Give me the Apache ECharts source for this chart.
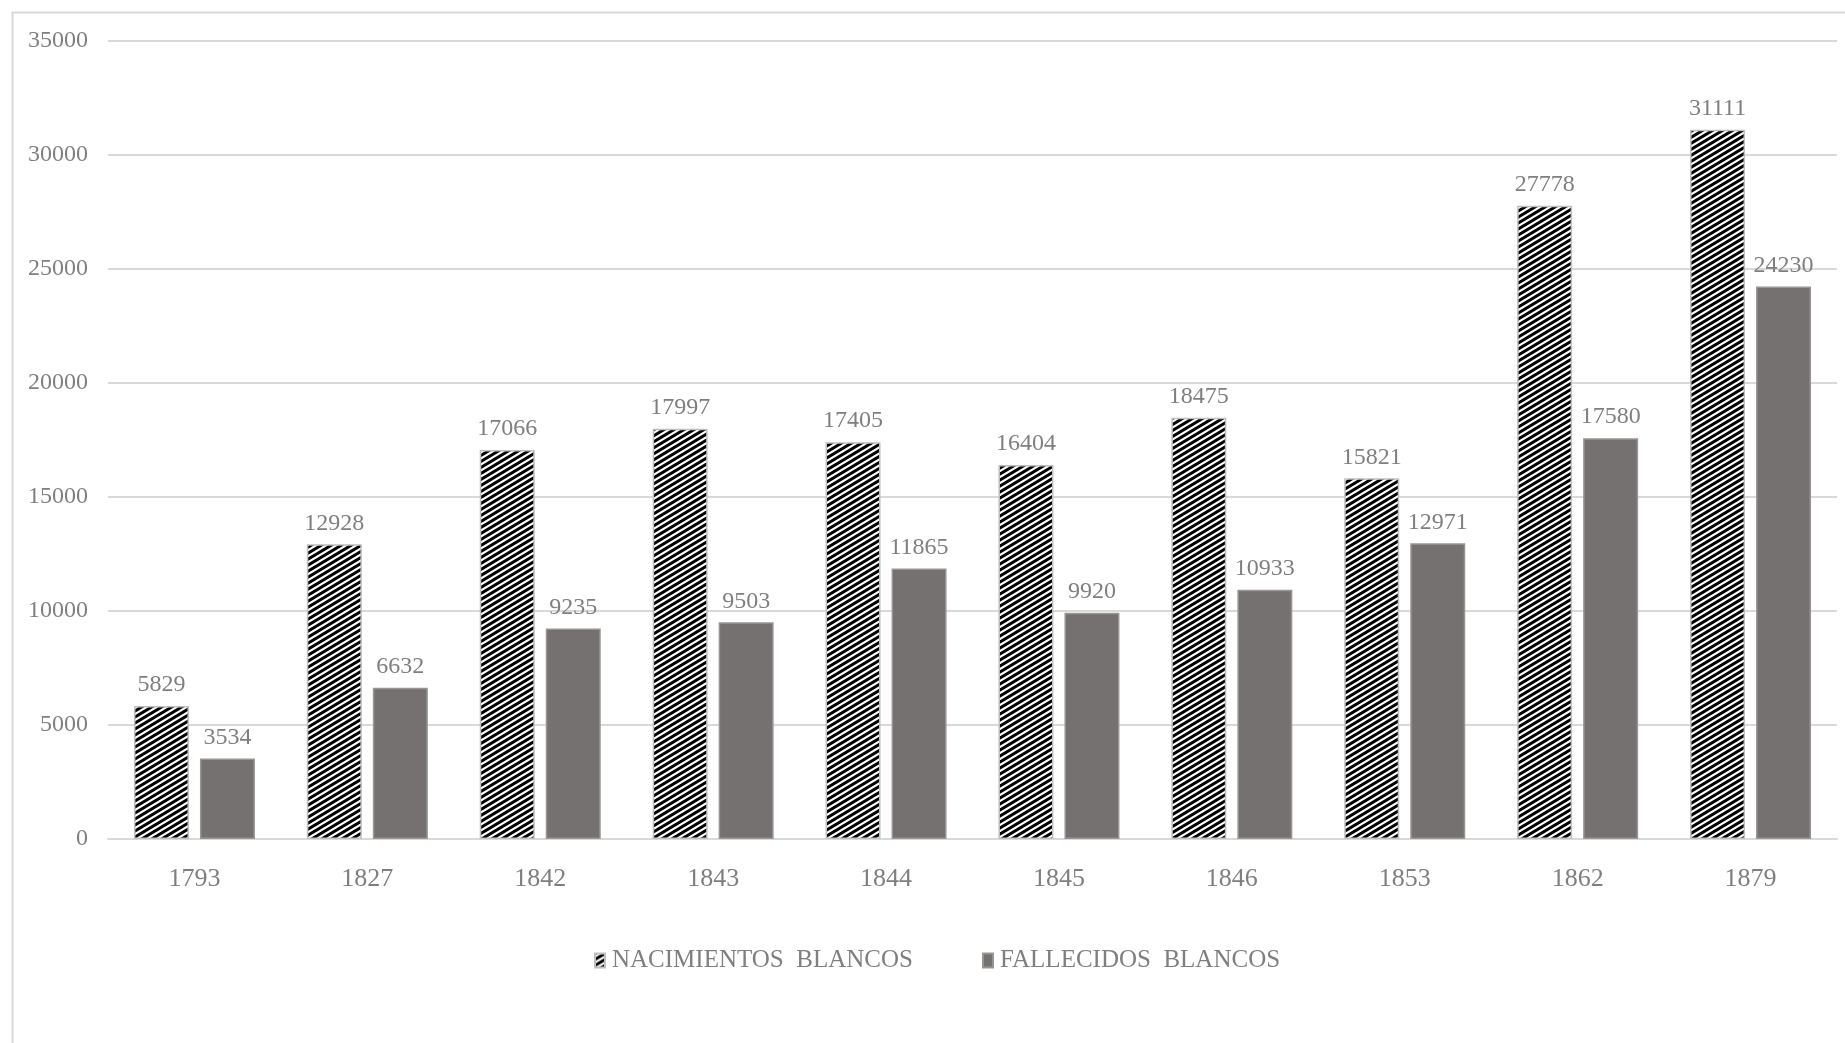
<!DOCTYPE html>
<html>
<head>
<meta charset="utf-8">
<title>Nacimientos y fallecidos blancos</title>
<script src="https://cdn.jsdelivr.net/npm/echarts@6/dist/echarts.min.js"></script>
<style>
  html, body { margin: 0; padding: 0; background: #ffffff; }
  #chart { width: 1845px; height: 1043px; }
</style>
</head>
<body>
<div id="chart"></div>
<script>
// Years on the category axis
const years = ['1793', '1827', '1842', '1843', '1844', '1845', '1846', '1853', '1862', '1879'];
// Births (white population)
const nacimientos = [5829, 12928, 17066, 17997, 17405, 16404, 18475, 15821, 27778, 31111];
// Deaths (white population)
const fallecidos = [3534, 6632, 9235, 9503, 11865, 9920, 10933, 12971, 17580, 24230];
// Value axis ticks
const yTicks = [0, 5000, 10000, 15000, 20000, 25000, 30000, 35000];

const serifFont = "'Liberation Serif', 'Times New Roman', serif";
const textGray = '#7f7f7f';

// Upward diagonal black/white hatch used for the births bars
function makeHatch() {
  const w = 10, h = 6;
  const c = document.createElement('canvas');
  c.width = w; c.height = h;
  const g = c.getContext('2d');
  g.fillStyle = '#ffffff';
  g.fillRect(0, 0, w, h);
  g.strokeStyle = '#000000';
  g.lineWidth = 3;
  g.beginPath();
  for (let k = -2; k <= 2; k++) {
    const x0 = -w, x1 = 2 * w;
    g.moveTo(x0, h - (h / w) * x0 + k * h);
    g.lineTo(x1, h - (h / w) * x1 + k * h);
  }
  g.stroke();
  return c;
}

const chart = echarts.init(document.getElementById('chart'), null, { renderer: 'canvas' });

const labelStyle = {
  show: true,
  position: 'top',
  distance: 9,
  color: textGray,
  fontFamily: serifFont,
  fontSize: 24
};

const legendText = { color: textGray, fontFamily: serifFont, fontSize: 25, padding: [0, 0, 0, 2] };

chart.setOption({
  animation: false,
  backgroundColor: '#ffffff',
  graphic: [{
    type: 'rect',
    left: 10,
    top: 10,
    shape: { width: 1845, height: 1043 },
    style: { fill: 'none', stroke: '#d9d9d9', lineWidth: 2 },
    silent: true
  }],
  grid: { left: 108, top: 41, width: 1729, height: 798, containLabel: false },
  legend: [{
    data: ['NACIMIENTOS  BLANCOS'],
    left: 589,
    top: 943,
    itemWidth: 10,
    itemHeight: 14,
    icon: 'rect',
    textStyle: legendText
  }, {
    data: ['FALLECIDOS  BLANCOS'],
    left: 977,
    top: 943,
    itemWidth: 10,
    itemHeight: 14,
    icon: 'rect',
    textStyle: legendText
  }],
  xAxis: {
    type: 'category',
    data: years,
    axisLine: { show: true, lineStyle: { color: '#d9d9d9', width: 2 } },
    axisTick: { show: false },
    axisLabel: { color: textGray, fontFamily: serifFont, fontSize: 26, margin: 27 }
  },
  yAxis: {
    type: 'value',
    min: yTicks[0],
    max: yTicks[yTicks.length - 1],
    interval: yTicks[1] - yTicks[0],
    axisLine: { show: false },
    axisTick: { show: false },
    splitLine: { lineStyle: { color: '#d9d9d9', width: 2 } },
    axisLabel: {
      color: textGray,
      fontFamily: serifFont,
      fontSize: 24,
      margin: 20,
      formatter: (v) => String(v)
    }
  },
  series: [{
    name: 'NACIMIENTOS  BLANCOS',
    type: 'bar',
    data: nacimientos,
    barWidth: 55,
    barGap: '20%',
    itemStyle: {
      color: { image: makeHatch(), repeat: 'repeat' },
      borderColor: '#bfbfbf',
      borderWidth: 1.5
    },
    label: labelStyle
  }, {
    name: 'FALLECIDOS  BLANCOS',
    type: 'bar',
    data: fallecidos,
    barWidth: 55,
    itemStyle: {
      color: '#767171',
      borderColor: '#9a9595',
      borderWidth: 1.5
    },
    label: labelStyle
  }]
});
</script>
</body>
</html>
